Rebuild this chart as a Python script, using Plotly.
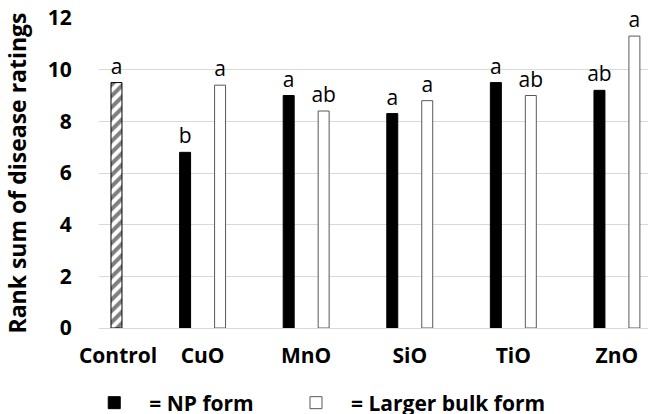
import plotly.graph_objects as go

categories = ["Control", "CuO", "MnO", "SiO", "TiO", "ZnO"]
category_labels = ["\u00a0" * 7 + "Control", "CuO", "MnO", "SiO", "TiO", "ZnO"]
treatments = ["CuO", "MnO", "SiO", "TiO", "ZnO"]
control_value = [9.5]
control_letter = ["a"]
np_values = [6.8, 9.0, 8.3, 9.5, 9.2]
np_letters = ["b", "a", "a", "a", "ab"]
bulk_values = [9.4, 8.4, 8.8, 9.0, 11.3]
bulk_letters = ["a", "ab", "a", "ab", "a"]

FONT = "Open Sans"
txt = dict(family=FONT, size=21, color="black")
bold = dict(family=FONT, size=21, color="black", weight="bold")

fig = go.Figure()
fig.add_trace(go.Bar(
    x=treatments, y=np_values, text=np_letters, name="= NP form",
    offsetgroup="np", legend="legend",
    marker=dict(color="black", line=dict(color="black", width=1)),
))
fig.add_trace(go.Bar(
    x=["Control"], y=control_value, text=control_letter, name="Control",
    offsetgroup="bulk", showlegend=False,
    marker=dict(color="white", line=dict(color="black", width=1),
                pattern=dict(shape="/", fgcolor="black", bgcolor="white",
                             size=8, solidity=0.5)),
))
fig.add_trace(go.Bar(
    x=treatments, y=bulk_values, text=bulk_letters, name="= Larger bulk form",
    offsetgroup="bulk", legend="legend2",
    marker=dict(color="white", line=dict(color="#595959", width=1)),
))
fig.update_traces(textposition="outside", textfont=txt, outsidetextfont=txt,
                  constraintext="none", cliponaxis=False, hoverinfo="skip")

legend_common = dict(orientation="h", xanchor="left", y=-0.242, yanchor="middle",
                     font=bold, itemwidth=60, bgcolor="rgba(0,0,0,0)")

fig.update_layout(
    width=648, height=414, autosize=False,
    margin=dict(l=99, r=0, t=18, b=86, autoexpand=False),
    paper_bgcolor="white", plot_bgcolor="white",
    barmode="group", bargap=0.325, bargroupgap=0.686,
    font=dict(family=FONT, color="black"),
    xaxis=dict(type="category", categoryorder="array", categoryarray=categories,
               tickmode="array", tickvals=categories, ticktext=category_labels,
               range=[0, 5.3], showgrid=False, zeroline=False, showline=False,
               ticks="outside", ticklen=9, tickcolor="rgba(0,0,0,0)",
               tickfont=bold, ticklabeloverflow="allow"),
    yaxis=dict(range=[0, 12], dtick=2, showgrid=True, gridcolor="#d9d9d9",
               gridwidth=1, zeroline=True, zerolinecolor="#d9d9d9", zerolinewidth=1,
               showline=False, ticks="outside", ticklen=22,
               tickcolor="rgba(0,0,0,0)", tickfont=bold, ticklabeloverflow="allow",
               title=dict(text="Rank sum of disease ratings", standoff=14,
                          font=dict(family=FONT, size=23, color="black", weight="bold"))),
    legend=dict(x=-0.036, **legend_common),
    legend2=dict(x=0.3315, **legend_common),
)

fig.write_html("out.html", config={"displayModeBar": False},
               post_script="document.body.style.margin='0';document.body.style.overflow='hidden';")
